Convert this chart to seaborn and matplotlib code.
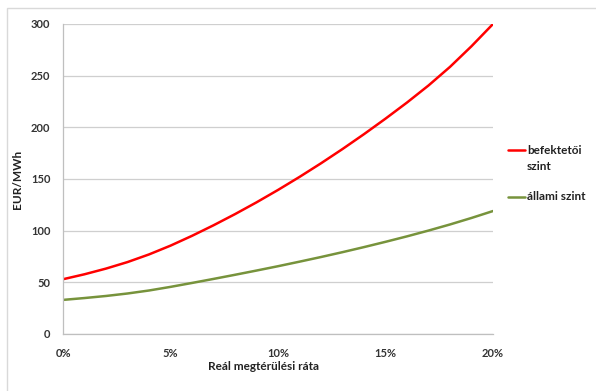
import matplotlib
matplotlib.use("Agg")
import matplotlib.pyplot as plt
import matplotlib.patches as mpatches
from matplotlib.lines import Line2D
from matplotlib.ticker import FuncFormatter, MultipleLocator
import pandas as pd
import seaborn as sns

# Real rate of return, in percent
rate_pct = [0, 1, 2, 3, 4, 5, 6, 7, 8, 9, 10,
            11, 12, 13, 14, 15, 16, 17, 18, 19, 20]

# Levelised cost, EUR/MWh
investor_level = [53, 57.8, 63.3, 69.6, 77, 85.5, 95, 105.2, 116, 127.4, 139.4,
                  152, 165.2, 179, 193.4, 208.4, 224, 240.5, 258.5, 278.5, 300]
state_level = [33, 34.8, 36.8, 39.2, 42.1, 45.6, 49.4, 53.3, 57.3, 61.4, 65.6,
               70, 74.5, 79.2, 84.1, 89.2, 94.5, 100.1, 106, 112.3, 119]

series_names = ["befektetői szint", "állami szint"]
legend_lines = [["befektetői", "szint"], ["állami szint"]]
series_colors = ["#ff0000", "#77933c"]

df = pd.DataFrame({
    "rate": rate_pct * 2,
    "cost": investor_level + state_level,
    "series": [series_names[0]] * len(rate_pct) + [series_names[1]] * len(rate_pct),
})

sns.set_theme(style="white")
plt.rcParams["font.family"] = ["Lato", "DejaVu Sans"]

W, H = 596, 391
fig = plt.figure(figsize=(W / 100, H / 100), dpi=100)
ax = fig.add_axes([63 / W, (H - 334) / H, (493 - 63) / W, (334 - 24) / H])

# chart-area border
fig.patches.append(mpatches.Rectangle((7 / W, -0.1), 1.2, (H - 8) / H + 0.1,
                                      transform=fig.transFigure, fill=False,
                                      edgecolor="#d9d9d9", linewidth=1.0))

sns.lineplot(data=df, x="rate", y="cost", hue="series", hue_order=series_names,
             palette=series_colors, linewidth=1.8, ax=ax, legend=False)

ax.set_xlim(0, 20)
ax.set_ylim(0, 300)
ax.xaxis.set_major_locator(MultipleLocator(5))
ax.yaxis.set_major_locator(MultipleLocator(50))
ax.xaxis.set_major_formatter(FuncFormatter(lambda v, p: f"{v:.0f}%"))
ax.yaxis.set_major_formatter(FuncFormatter(lambda v, p: f"{v:.0f}"))

ax.grid(axis="y", color="#cfcfcf", linewidth=0.9)
ax.grid(axis="x", visible=False)
for s in ["top", "right"]:
    ax.spines[s].set_visible(False)
for s in ["left", "bottom"]:
    ax.spines[s].set_color("#bfbfbf")
    ax.spines[s].set_linewidth(0.9)

ax.tick_params(axis="both", length=0, labelsize=8, labelcolor="#333333")
ax.tick_params(axis="y", pad=9)
ax.tick_params(axis="x", pad=10)
for lab in ax.get_xticklabels() + ax.get_yticklabels():
    lab.set_fontweight("bold")

ax.set_xlabel("Reál megtérülési ráta", fontsize=8.5, fontweight="bold",
              color="#222222")
ax.xaxis.set_label_coords((263.5 - 63) / 430, -(361 - 334) / 310, transform=ax.transAxes)
ax.xaxis.label.set_va("top")
ax.set_ylabel("EUR/MWh", fontsize=8.5, fontweight="bold", color="#222222")
ax.yaxis.set_label_coords(-(63 - 23.5) / 430, 0.5)

# legend at the right: short line keys with labels beside the first text line
legend_rows_y = [150, 197]
line_step = 16
for lines, color, y in zip(legend_lines, series_colors, legend_rows_y):
    fy = (H - y) / H
    fig.add_artist(Line2D([508 / W, 525 / W], [fy, fy], transform=fig.transFigure,
                          color=color, linewidth=1.8))
    for i, txt in enumerate(lines):
        fig.text(527 / W, (H - y - i * line_step) / H, txt, fontsize=8.5,
                 fontweight="bold", color="#222222", ha="left", va="center")

fig.savefig("out.png", dpi=100)
